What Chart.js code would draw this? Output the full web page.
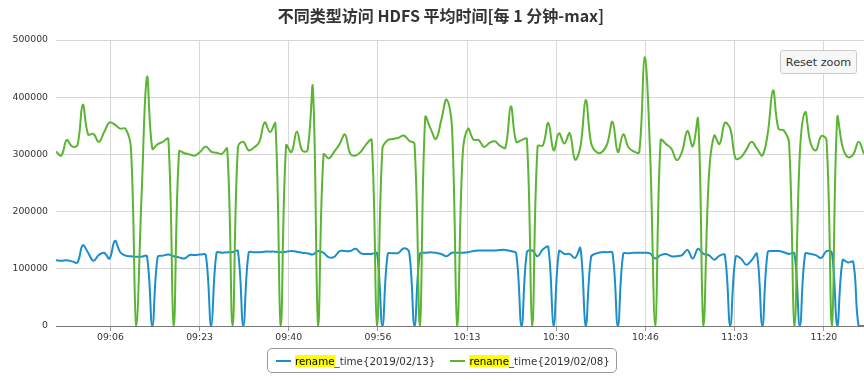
<!DOCTYPE html>
<html>
<head>
<meta charset="utf-8">
<title>HDFS rename_time</title>
<script src="https://cdn.jsdelivr.net/npm/chart.js@4/dist/chart.umd.min.js"></script>
<style>
    html, body { margin: 0; padding: 0; background: #fff; }
    #wrap { position: relative; width: 864px; height: 381px; }
    #legend {
        position: absolute; left: 267px; top: 348px; height: 25px;
        box-sizing: border-box; border: 1px solid #999; border-radius: 5px;
        display: flex; align-items: center; padding: 0 6px 0 8px;
        font: 10.3px "DejaVu Sans"; color: #333; white-space: nowrap;
    }
    #legend .item { display: flex; align-items: center; }
    #legend .item + .item { margin-left: 15px; }
    #legend .swatch { width: 15px; height: 2px; margin-right: 4px; }
    #legend mark { background: #ffff00; color: #000; line-height: 14px; }
    #reset {
        position: absolute; left: 780px; top: 50px; width: 77px; height: 24px;
        box-sizing: border-box; border: 1px solid #ccc; border-radius: 3px;
        background: #f7f7f7; color: #333; font: 11.2px "DejaVu Sans";
        display: flex; align-items: center; justify-content: center;
    }
</style>
</head>
<body>
<div id="wrap">
    <canvas id="hdfsChart" width="864" height="381"></canvas>
    <div id="reset">Reset zoom</div>
    <div id="legend"></div>
</div>
<script>
const titleText = '不同类型访问 HDFS 平均时间[每 1 分钟-max]';
const seriesNames = ['rename_time{2019/02/13}', 'rename_time{2019/02/08}'];
const seriesColors = ['#1b8fcc', '#5bb532'];
const highlightWord = 'rename';

// one point per minute, first point at 08:56:30 (minutes since midnight)
const startMinute = 8 * 60 + 56.5;

const tickMinutes = [546.667, 563.333, 580, 596.667, 613.333, 630, 646.667, 663.333, 680];
const tickLabels = ['09:06', '09:23', '09:40', '09:56', '10:13', '10:30', '10:46', '11:03', '11:20'];
const yTicks = [0, 100000, 200000, 300000, 400000, 500000];

const time0213 = [
    115000, 114000, 115000, 113000, 111000, 141000, 128000, 114000, 124000, 128000,
    118000, 149000, 129000, 123000, 122000, 121000, 121000, 122000, 0, 121000,
    123000, 125000, 122000, 120000, 118000, 124000, 124000, 125000, 124000, 0,
    128000, 128000, 129000, 129000, 131000, 0, 128000, 129000, 129000, 130000,
    130000, 130000, 129000, 130000, 131000, 130000, 128000, 127000, 125000, 131000,
    128000, 120000, 121000, 131000, 131000, 131000, 135000, 127000, 126000, 126000,
    127000, 0, 126000, 127000, 128000, 136000, 129000, 0, 126000, 128000,
    129000, 128000, 126000, 122000, 128000, 128000, 128000, 129000, 131000, 132000,
    132000, 132000, 132000, 133000, 133000, 131000, 127000, 0, 129000, 132000,
    122000, 134000, 138000, 0, 131000, 126000, 126000, 119000, 136000, 0,
    121000, 127000, 129000, 129000, 128000, 0, 126000, 127000, 128000, 128000,
    128000, 127000, 118000, 124000, 126000, 122000, 122000, 124000, 133000, 118000,
    135000, 126000, 124000, 116000, 123000, 124000, 0, 121000, 118000, 107000,
    115000, 126000, 0, 129000, 131000, 131000, 129000, 126000, 127000, 0,
    126000, 126000, 124000, 119000, 131000, 128000, 0, 115000, 111000, 112000,
    0, 0
];

const time0208 = [
    305000, 298000, 325000, 314000, 316000, 387000, 335000, 336000, 322000, 339000,
    356000, 352000, 345000, 345000, 312000, 0, 230000, 435000, 310000, 318000,
    322000, 327000, 0, 305000, 302000, 300000, 298000, 305000, 314000, 305000,
    303000, 301000, 310000, 0, 313000, 322000, 307000, 312000, 322000, 356000,
    339000, 354000, 0, 316000, 304000, 340000, 307000, 307000, 417000, 0,
    300000, 293000, 305000, 318000, 335000, 301000, 298000, 305000, 318000, 325000,
    0, 310000, 325000, 327000, 329000, 333000, 324000, 318000, 0, 365000,
    345000, 327000, 360000, 396000, 348000, 0, 300000, 345000, 326000, 325000,
    313000, 320000, 323000, 315000, 312000, 384000, 322000, 325000, 327000, 0,
    314000, 316000, 355000, 307000, 337000, 319000, 337000, 291000, 313000, 395000,
    320000, 304000, 304000, 318000, 357000, 304000, 335000, 312000, 305000, 304000,
    470000, 310000, 0, 325000, 318000, 310000, 290000, 305000, 341000, 314000,
    362000, 0, 260000, 333000, 318000, 355000, 345000, 293000, 295000, 308000,
    322000, 310000, 298000, 336000, 412000, 345000, 342000, 320000, 0, 300000,
    374000, 320000, 307000, 332000, 325000, 0, 364000, 313000, 295000, 300000,
    322000, 301000
];

const tickFont = { family: '"DejaVu Sans"', size: 9.3 };

function toPoints(values) {
    return values.map((v, i) => ({ x: startMinute + i, y: v }));
}

const titlePlugin = {
    id: 'chartTitle',
    afterDraw(chart) {
        const c = chart.ctx;
        c.save();
        c.font = 'bold 16px "Noto Sans CJK SC"';
        c.fillStyle = '#333';
        c.textAlign = 'center';
        c.textBaseline = 'middle';
        c.fillText(titleText, 441, 16);
        c.restore();
    }
};

function buildLegend() {
    const box = document.getElementById('legend');
    seriesNames.forEach((name, i) => {
        const item = document.createElement('span');
        item.className = 'item';
        const sw = document.createElement('span');
        sw.className = 'swatch';
        sw.style.background = seriesColors[i];
        const txt = document.createElement('span');
        const mark = document.createElement('mark');
        mark.textContent = highlightWord;
        txt.appendChild(mark);
        txt.appendChild(document.createTextNode(name.slice(highlightWord.length)));
        item.appendChild(sw);
        item.appendChild(txt);
        box.appendChild(item);
    });
}

const ctx = document.getElementById('hdfsChart').getContext('2d');
const hdfsChart = new Chart(ctx, {
    type: 'line',
    data: {
        datasets: [
            {
                label: seriesNames[0],
                data: toPoints(time0213),
                borderColor: seriesColors[0],
                borderWidth: 2,
                pointRadius: 0,
                tension: 0.4,
                order: 1
            },
            {
                label: seriesNames[1],
                data: toPoints(time0208),
                borderColor: seriesColors[1],
                borderWidth: 2,
                pointRadius: 0,
                tension: 0.4,
                order: 0
            }
        ]
    },
    options: {
        responsive: false,
        animation: false,
        layout: { padding: { top: 40, bottom: 33, left: 0, right: 0 } },
        plugins: {
            legend: { display: false },
            tooltip: { enabled: false },
            title: { display: false }
        },
        scales: {
            x: {
                type: 'linear',
                min: startMinute,
                max: startMinute + time0213.length - 1,
                afterBuildTicks: (scale) => {
                    scale.ticks = tickMinutes.map(v => ({ value: v }));
                },
                afterFit: (scale) => { scale.height = 22; },
                border: { display: true, color: '#777', width: 1 },
                grid: { color: '#d9d9d9', tickLength: 5, tickColor: '#999' },
                ticks: {
                    autoSkip: false,
                    maxRotation: 0,
                    padding: 1,
                    color: '#333',
                    font: tickFont,
                    callback: (value, index) => tickLabels[index]
                }
            },
            y: {
                min: 0,
                max: 500000,
                afterBuildTicks: (scale) => {
                    scale.ticks = yTicks.map(v => ({ value: v }));
                },
                afterFit: (scale) => { scale.width = 56; },
                border: { display: false },
                grid: { color: '#d6d6d6', drawTicks: false },
                ticks: {
                    padding: 8,
                    color: '#333',
                    font: tickFont,
                    callback: (value) => String(value)
                }
            }
        }
    },
    plugins: [titlePlugin]
});

buildLegend();
</script>
</body>
</html>
